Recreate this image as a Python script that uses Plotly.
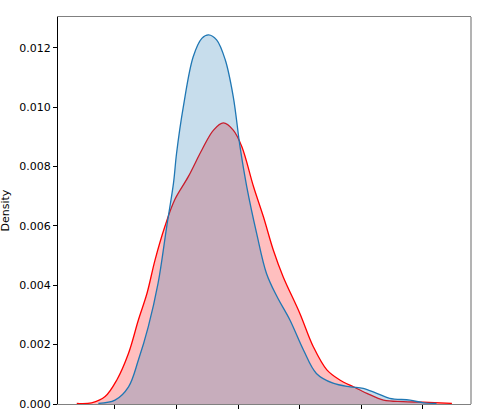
import plotly.graph_objects as go

# red kde (drawn first, blue on top)
red_x = [38, 62, 84, 103, 122, 138, 152, 165, 181, 197, 219, 241, 260, 276, 292,
         306, 325, 341, 357, 373, 400, 422, 444, 465, 487, 509, 536, 568, 600, 647]
red_y = [0.00002, 0.00004, 0.00025, 0.00081, 0.00171, 0.00283, 0.00373, 0.00485,
         0.00598, 0.00688, 0.00766, 0.00856, 0.00923, 0.00947, 0.00923, 0.00867,
         0.00732, 0.00631, 0.00519, 0.00429, 0.00306, 0.00193, 0.00115, 0.00081,
         0.00058, 0.00036, 0.00013, 0.00008, 0.00006, 0.00002]

blue_x = [73, 100, 122, 138, 154, 170, 184, 195, 200, 211, 227, 241, 252, 265, 279,
          292, 303, 314, 330, 346, 363, 384, 406, 427, 454, 482, 503, 525, 546, 579,
          601, 622]
blue_y = [0.00002, 0.00013, 0.00058, 0.00148, 0.00260, 0.00407, 0.00598, 0.00744,
          0.00845, 0.01002, 0.01170, 0.01232, 0.01244, 0.01227, 0.01160, 0.01036,
          0.00867, 0.00732, 0.00575, 0.00440, 0.00362, 0.00283, 0.00182, 0.00103,
          0.00070, 0.00058, 0.00053, 0.00036, 0.00019, 0.00013, 0.00004, 0.00002]

x_ticks = [100, 200, 300, 400, 500, 600]
y_ticks = [0.000, 0.002, 0.004, 0.006, 0.008, 0.010, 0.012]

fig = go.Figure()

fig.add_trace(go.Scatter(x=red_x, y=red_y, mode='lines', line_shape='spline',
                         line=dict(color='rgb(255,0,0)', width=1.3),
                         fill='tozeroy', fillcolor='rgba(255,0,0,0.25)'))
fig.add_trace(go.Scatter(x=blue_x, y=blue_y, mode='lines', line_shape='spline',
                         line=dict(color='#1f77b4', width=1.3),
                         fill='tozeroy', fillcolor='rgba(31,119,180,0.25)'))

fig.update_layout(
    width=478, height=412,
    margin=dict(l=58, r=7, t=17, b=8),
    paper_bgcolor='white', plot_bgcolor='white',
    showlegend=False,
    font=dict(family='DejaVu Sans', size=11, color='black'),
    xaxis=dict(range=[7.5, 678], tickvals=x_ticks, showticklabels=False,
               ticks='outside', ticklen=4, tickcolor='black',
               showline=True, linecolor='gray', linewidth=1.2, mirror=True,
               showgrid=False, zeroline=False, automargin=False),
    yaxis=dict(range=[0, 0.01304], tickvals=y_ticks, tickformat='.3f',
               ticks='outside', ticklen=4, tickcolor='black',
               showline=True, linecolor='black', linewidth=1,
               showgrid=False, zeroline=False, automargin=False),
    shapes=[dict(type='line', xref='paper', yref='paper', x0=1, x1=1, y0=0, y1=1,
                 line=dict(color='gray', width=1.2))],
    annotations=[dict(text='Density', xref='paper', yref='paper', x=-0.126, y=0.5,
                      xanchor='center', yanchor='middle', textangle=-90,
                      showarrow=False, font=dict(size=11))],
)

# page margin would shift the figure inside the window
fig.write_html("out.html", config={'displayModeBar': False},
               post_script="document.body.style.margin='0';document.body.style.overflow='hidden';")
